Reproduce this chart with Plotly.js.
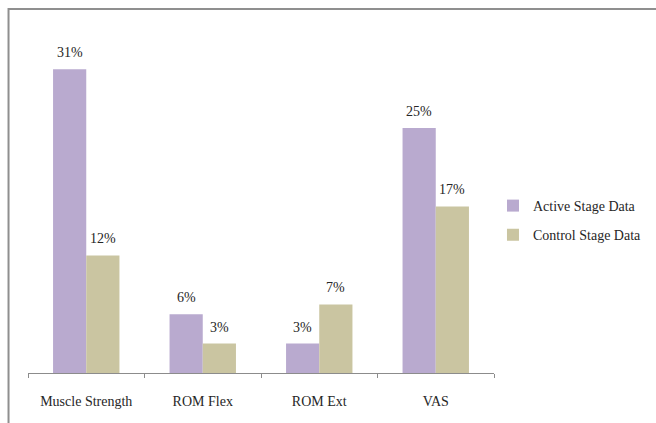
<!DOCTYPE html>
<html>
<head>
<meta charset="utf-8">
<script src="https://cdn.plot.ly/plotly-3.0.1.min.js"></script>
<style>html,body{margin:0;padding:0;background:#fff;}#chart{width:656px;height:423px;}</style>
</head>
<body>
<div id="chart"></div>
<script>
const categories = ["Muscle Strength", "ROM Flex", "ROM Ext", "VAS"];
const seriesNames = ["Active Stage Data", "Control Stage Data"];
const activeValues = [31, 6, 3, 25];
const controlValues = [12, 3, 7, 17];
const colors = ["#b9aacf", "#cac5a1"];

const font = {family: "Liberation Serif", size: 14, color: "#262626"};
const allValues = [activeValues, controlValues];

const traces = allValues.map((vals, s) => ({
  type: "bar",
  name: seriesNames[s],
  x: categories,
  y: vals,
  marker: {color: colors[s]},
  legend: s === 0 ? "legend" : "legend2",
  hoverinfo: "skip"
}));

const annotations = [];
allValues.forEach((vals, s) => {
  vals.forEach((v, i) => {
    annotations.push({
      x: categories[i], y: v, xref: "x", yref: "y",
      text: v + "%", showarrow: false,
      xshift: s === 0 ? -16.5 : 16.5, yshift: 7,
      yanchor: "bottom", font: font
    });
  });
});

const layout = {
  width: 656, height: 423,
  margin: {l: 28, r: 162, t: 30, b: 50, autoexpand: false},
  paper_bgcolor: "#ffffff", plot_bgcolor: "#ffffff",
  font: font,
  barmode: "group", bargap: 0.43, bargroupgap: 0,
  xaxis: {
    type: "category", showgrid: false, zeroline: false, automargin: false,
    showline: true, linecolor: "#8c8c8c", linewidth: 1,
    ticks: "outside", tickson: "boundaries", ticklen: 4, tickcolor: "#8c8c8c",
    ticklabelstandoff: 15, tickfont: font, fixedrange: true
  },
  yaxis: {range: [0, 35], visible: false, automargin: false, showgrid: false, zeroline: false, fixedrange: true},
  showlegend: true,
  legend: {xref: "container", yref: "container", x: 0.7515, xanchor: "left", y: 0.513, yanchor: "middle", font: font, bgcolor: "rgba(0,0,0,0)", itemwidth: 30},
  legend2: {xref: "container", yref: "container", x: 0.7515, xanchor: "left", y: 0.444, yanchor: "middle", font: font, bgcolor: "rgba(0,0,0,0)", itemwidth: 30},
  annotations: annotations,
  shapes: [{
    type: "rect", xref: "paper", yref: "paper",
    x0: -0.0418, x1: 1.5, y0: -0.3, y1: 1.0612,
    line: {color: "#8f8f8f", width: 2}, fillcolor: "rgba(0,0,0,0)", layer: "below"
  }]
};

Plotly.newPlot("chart", traces, layout, {displayModeBar: false, staticPlot: true});
</script>
</body>
</html>
